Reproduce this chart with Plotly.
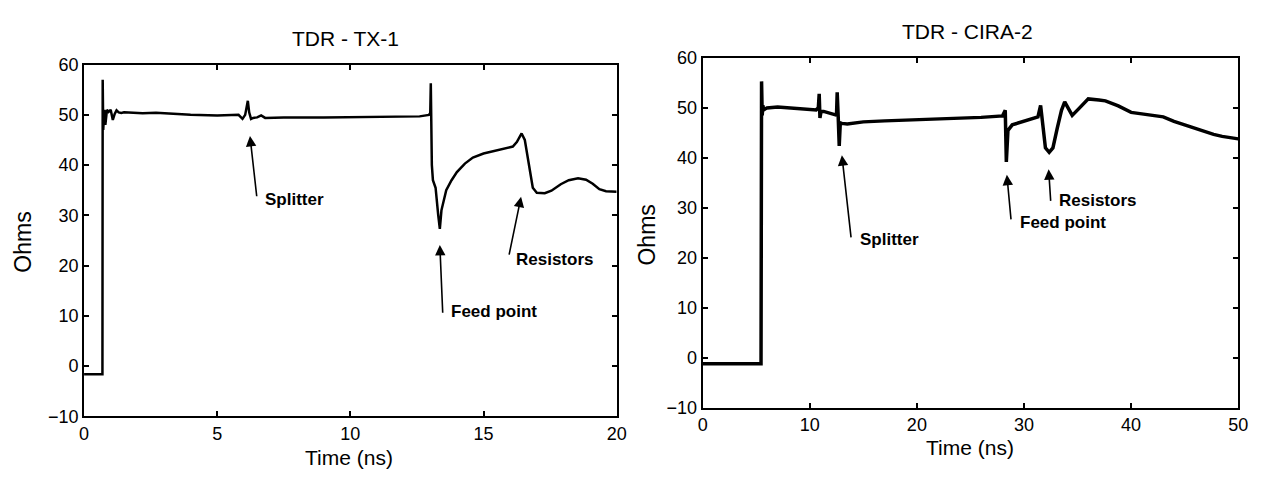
import plotly.graph_objects as go

# ---- data: TDR - TX-1 (left) ----
tx1_time = [0, 0.69, 0.70, 0.72, 0.76, 0.80, 0.86, 0.92, 1.00, 1.08, 1.15, 1.22, 1.30, 1.40,
            1.50, 1.70, 2.20, 2.70, 3.20, 4.00, 5.00, 5.80, 5.95, 6.05, 6.15, 6.20, 6.27, 6.35,
            6.50, 6.65, 6.80, 7.50, 9.00, 11.0, 12.6, 12.95, 13.0, 13.02, 13.06, 13.10, 13.20,
            13.30, 13.36, 13.42, 13.50, 13.60, 13.80, 14.0, 14.3, 14.6, 15.0, 15.4, 15.8, 16.1,
            16.25, 16.43, 16.55, 16.70, 16.85, 17.0, 17.3, 17.55, 17.9, 18.2, 18.55, 18.85,
            19.1, 19.35, 19.6, 20.0]
tx1_ohms = [-1.6, -1.6, 57, 47, 51, 48, 51, 50.6, 51, 49, 50.2, 50.9, 50.5, 50.4,
            50.5, 50.4, 50.3, 50.4, 50.2, 50.0, 49.9, 50.0, 49.2, 50.0, 52.8, 50.5, 49.2, 49.4,
            49.5, 49.9, 49.4, 49.5, 49.5, 49.6, 49.7, 50.0, 50.4, 56.3, 40, 37, 35.5,
            30, 27.3, 31, 33, 35, 37, 38.6, 40.3, 41.5, 42.3, 42.8, 43.2, 43.7,
            44.6, 46.3, 45, 40.5, 35.5, 34.5, 34.4, 34.9, 36.2, 37.0, 37.4, 37.1,
            36.3, 35.2, 34.8, 34.7]

# ---- data: TDR - CIRA-2 (right) ----
cira_time = [0, 5.45, 5.50, 5.56, 5.62, 5.70, 6.0, 7.0, 8.0, 9.0, 10.0, 10.6, 10.8, 10.88,
             10.95, 11.05, 11.3, 12.0, 12.4, 12.5, 12.56, 12.65, 12.75, 12.85, 13.0, 13.5,
             15.0, 17.0, 20.0, 23.0, 26.0, 28.0, 28.25, 28.35, 28.5, 28.9, 29.5, 30.5, 31.3,
             31.55, 31.75, 32.0, 32.35, 32.7, 33.1, 33.5, 33.8, 34.1, 34.5, 35.1, 36.0, 37.0,
             37.6, 38.8, 40.0, 41.0, 42.2, 43.0, 44.0, 45.9, 47.7, 48.5, 49.6, 50.0]
cira_ohms = [-1.2, -1.2, 55.3, 48.5, 50.5, 49.6, 50.0, 50.2, 50.0, 49.8, 49.7, 49.6, 50.0, 52.8,
             48.0, 49.3, 49.3, 48.8, 48.6, 48.8, 53.1, 48.5, 42.4, 47.0, 46.9, 46.8,
             47.2, 47.4, 47.6, 47.9, 48.1, 48.4, 49.5, 39.2, 45.5, 46.6, 47.0, 47.5, 48.2,
             50.5, 46.5, 42.0, 41.1, 42.0, 45.9, 49.5, 51.2, 50.0, 48.5, 49.8, 51.8, 51.6,
             51.4, 50.4, 49.1, 48.8, 48.5, 48.2, 47.3, 45.9, 44.7, 44.3, 43.9, 43.8]

tx1_xticks = [0, 5, 10, 15, 20]
cira_xticks = [0, 10, 20, 30, 40, 50]
ohm_ticks = [-10, 0, 10, 20, 30, 40, 50, 60]

# annotations: (label, tip_x, tip_y, tail_x, tail_y, text_x, text_y)
tx1_notes = [("Splitter", 6.23, 45.8, 6.49, 33.5, 6.72, 33.1),
             ("Feed point", 13.36, 24.1, 13.47, 10.3, 13.7, 10.9),
             ("Resistors", 16.41, 33.7, 15.95, 21.9, 16.15, 21.3)]
cira_notes = [("Splitter", 13.0, 40.5, 13.87, 23.8, 14.5, 23.6),
              ("Feed point", 28.4, 36.6, 28.8, 27.4, 29.4, 27.0),
              ("Resistors", 32.3, 37.7, 32.5, 31.1, 33.1, 31.4)]

FONT = "Liberation Sans, Arial, Helvetica, sans-serif"
NOTE_FONT = "Liberation Sans Narrow, Arial Narrow, Liberation Sans, Arial, sans-serif"

fig = go.Figure()
fig.add_trace(go.Scatter(x=tx1_time, y=tx1_ohms, mode="lines",
                         line=dict(color="black", width=2.5), xaxis="x", yaxis="y"))
fig.add_trace(go.Scatter(x=cira_time, y=cira_ohms, mode="lines",
                         line=dict(color="black", width=3.5), xaxis="x2", yaxis="y2"))

axis_common = dict(showgrid=False, zeroline=False, showline=True, linecolor="black",
                   linewidth=2, mirror="allticks", ticks="inside", ticklen=5,
                   tickwidth=1.5, tickcolor="black",
                   tickfont=dict(family=FONT, size=18, color="black"))

annotations = []
for notes, xr, yr in [(tx1_notes, "x", "y"), (cira_notes, "x2", "y2")]:
    for label, tx, ty, ax, ay, lx, ly in notes:
        annotations.append(dict(x=tx, y=ty, ax=ax, ay=ay, xref=xr, yref=yr, axref=xr, ayref=yr,
                                text="", showarrow=True, arrowhead=2, arrowsize=1.3,
                                arrowwidth=1.6, arrowcolor="black"))
        annotations.append(dict(x=lx, y=ly, xref=xr, yref=yr, text="<b>%s</b>" % label,
                                showarrow=False, xanchor="left", yanchor="middle",
                                font=dict(family=NOTE_FONT, size=17, color="black")))


def px_x(p):
    return p / 1268.0


def px_y(p):
    return 1 - p / 480.0


annotations += [
    dict(x=px_x(345), y=px_y(30), xref="paper", yref="paper", text="TDR - TX-1", showarrow=False,
         xanchor="center", yanchor="middle", font=dict(family=FONT, size=21, color="black")),
    dict(x=px_x(974), y=px_y(22), xref="paper", yref="paper", text="TDR - CIRA-2", showarrow=False,
         xanchor="center", yanchor="middle", font=dict(family=FONT, size=21, color="black")),
    dict(x=px_x(348), y=px_y(480), xref="paper", yref="paper", text="Time (ns)", showarrow=False,
         xanchor="center", yanchor="bottom", borderpad=0,
         font=dict(family=FONT, size=21, color="black")),
    dict(x=px_x(977), y=px_y(470), xref="paper", yref="paper", text="Time (ns)", showarrow=False,
         xanchor="center", yanchor="bottom", borderpad=0,
         font=dict(family=FONT, size=21, color="black")),
    dict(x=px_x(18), y=px_y(242), xref="paper", yref="paper", text="Ohms", showarrow=False,
         textangle=-90, xanchor="center", yanchor="middle",
         font=dict(family=FONT, size=23, color="black")),
    dict(x=px_x(650), y=px_y(235), xref="paper", yref="paper", text="Ohms", showarrow=False,
         textangle=-90, xanchor="center", yanchor="middle",
         font=dict(family=FONT, size=23, color="black")),
]

fig.update_layout(
    width=1268, height=480, margin=dict(l=0, r=0, t=0, b=0),
    paper_bgcolor="white", plot_bgcolor="white", showlegend=False,
    xaxis=dict(domain=[80 / 1268, 619 / 1268], range=[0, 20], tickvals=tx1_xticks,
               anchor="y", **axis_common),
    yaxis=dict(domain=[1 - 424 / 480, 1 - 57 / 480], range=[-10, 60], tickvals=ohm_ticks,
               anchor="x", **axis_common),
    xaxis2=dict(domain=[706 / 1268, 1248 / 1268], range=[0, 50], tickvals=cira_xticks,
                anchor="y2", **axis_common),
    yaxis2=dict(domain=[1 - 415 / 480, 1 - 50 / 480], range=[-10, 60], tickvals=ohm_ticks,
                anchor="x2", **axis_common),
    annotations=annotations,
)

fig.write_html("out.html")
